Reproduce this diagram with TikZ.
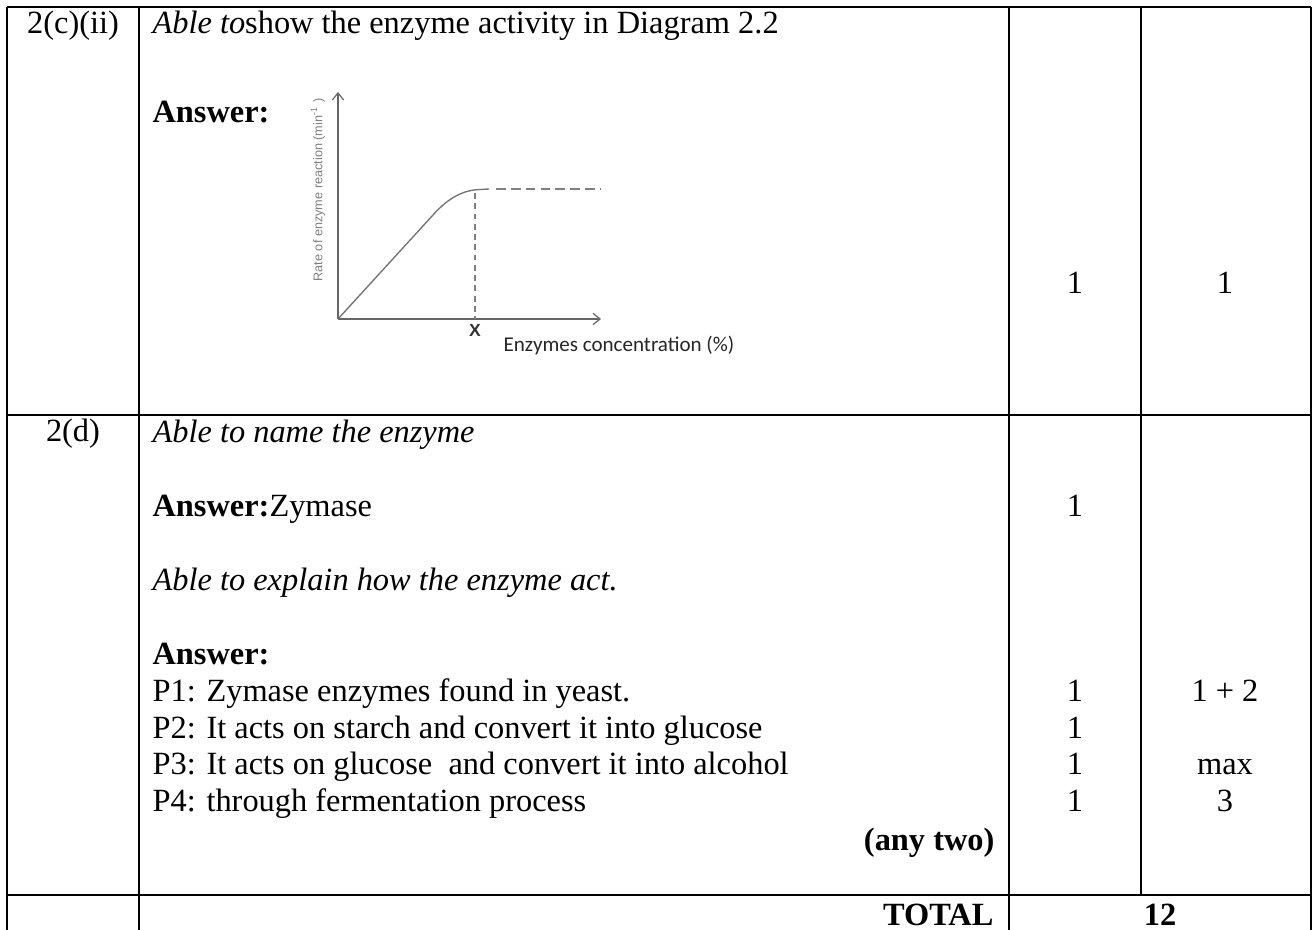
\documentclass[tikz,border=0pt]{standalone}
\usepackage{fontspec}
\setmainfont{Liberation Serif}
\newfontfamily\arialfont{Liberation Sans}
\newfontfamily\calfont{Carlito}
\usetikzlibrary{arrows.meta}
\begin{document}
\begin{tikzpicture}[x=0.3704pt,y=-0.3704pt,
  rule/.style={line width=1pt, black},
  txt/.style={anchor=base west, inner sep=0pt, font=\fontsize{12}{13.7}\selectfont},
  ctr/.style={anchor=base, inner sep=0pt, font=\fontsize{12}{13.7}\selectfont},
  rgt/.style={anchor=base east, inner sep=0pt, font=\fontsize{12}{13.7}\selectfont},
  axis/.style={draw=black!60, line width=0.45pt, -{Straight Barb[length=2.6pt,width=4.2pt,line width=0.45pt]}},
  curve/.style={draw=black!55, line width=0.5pt},
  guide/.style={draw=black!50, line width=0.45pt, dash pattern=on 2.2pt off 1.6pt}]
\useasboundingbox (0,0) rectangle (1314,930);
\fill[white] (0,0) rectangle (1314,930);
% table rules
\draw[rule] (7,7) -- (1311,7);
\draw[rule] (7,415) -- (1311,415);
\draw[rule] (7,895) -- (1311,895);
\draw[rule] (7,7) -- (7,930);
\draw[rule] (139,7) -- (139,930);
\draw[rule] (1009,7) -- (1009,930);
\draw[rule] (1141,7) -- (1141,895);
\draw[rule] (1311,7) -- (1311,930);
% row 1
\node[ctr] (c1) at (73,34) {2(c)(ii)};
\node[txt] (h1) at (152,34) {\textit{Able to}show the enzyme activity in Diagram 2.2};
\node[txt] (a1) at (152,123) {\textbf{Answer:}};
\node[ctr] (m1) at (1075,294) {1};
\node[ctr] (t1) at (1225,294) {1};
% graph
\coordinate (O) at (338,319);
\coordinate (Ytop) at (338,92);
\coordinate (Xend) at (601,319);
\draw[axis] (O) -- (Ytop);
\draw[axis] (O) -- (Xend);
\draw[curve] (O) -- (433,215) .. controls (449,197) and (464,190) .. (480,189.5) -- (489,189);
\draw[guide, dash pattern=on 3.6pt off 1.9pt] (496,189) -- (600,189);
\draw[guide] (475,193) -- (475,319);
\node[anchor=base, inner sep=0pt, font=\arialfont\bfseries\fontsize{6.5}{7}\selectfont, text=black!80] (xl) at (475,337) {X};
\node[anchor=base west, inner sep=0pt, font=\calfont\fontsize{7.8}{9}\selectfont, text=black!85] (xlab) at (503,352) {Enzymes concentration (\%)};
\node[rotate=90, inner sep=0pt, font=\arialfont\fontsize{4.7}{5.5}\selectfont, text=black!50] (ylab) at (318,190) {Rate of enzyme reaction (min\textsuperscript{-1} )};
% row 2
\node[ctr] (c2) at (73,442) {2(d)};
\node[txt] (l1) at (152,443) {\textit{Able to name the enzyme}};
\node[txt] (l3) at (152,517) {\textbf{Answer:}Zymase};
\node[ctr] (m3) at (1075,517) {1};
\node[txt] (l5) at (152,591) {\textit{Able to explain how the enzyme act.}};
\node[txt] (l7) at (152,665) {\textbf{Answer:}};
\node[txt] (p1) at (152,702) {P1: Zymase enzymes found in yeast.};
\node[txt] (p2) at (152,739) {P2: It acts on starch and convert it into glucose};
\node[txt] (p3) at (152,775) {P3: It acts on glucose\ \ and convert it into alcohol};
\node[txt] (p4) at (152,812) {P4: through fermentation process};
\node[rgt] (any) at (995,850) {\textbf{(any two)}};
\node[ctr] (mp1) at (1075,702) {1};
\node[ctr] (mp2) at (1075,739) {1};
\node[ctr] (mp3) at (1075,775) {1};
\node[ctr] (mp4) at (1075,812) {1};
\node[ctr] (tp1) at (1225,702) {1 + 2};
\node[ctr] (tp3) at (1225,775) {max};
\node[ctr] (tp4) at (1225,812) {3};
% total row
\node[rgt] (tot) at (994,925) {\textbf{TOTAL}};
\node[ctr] (twelve) at (1160,925) {\textbf{12}};
\end{tikzpicture}
\end{document}
